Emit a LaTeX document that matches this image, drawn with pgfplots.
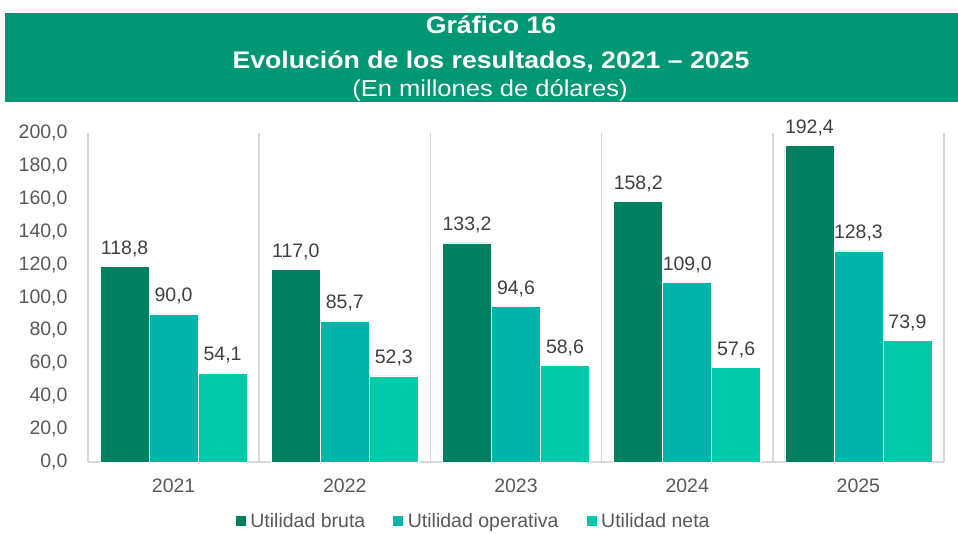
\documentclass[border=0pt]{standalone}
\usepackage{pgfplots}
\pgfplotsset{compat=1.18}
\usepackage{fontspec}
\setmainfont{Liberation Sans}
\newfontfamily\titlefont{Liberation Sans}[FakeStretch=1.11]
\definecolor{banner}{RGB}{0,151,117}
\definecolor{cbruta}{RGB}{0,128,96}
\definecolor{coper}{RGB}{0,180,170}
\definecolor{cneta}{RGB}{0,201,170}
\definecolor{gridgray}{RGB}{217,217,217}
\definecolor{ticktext}{RGB}{89,89,89}
\definecolor{labeltext}{RGB}{64,64,64}
\begin{document}
\begin{tikzpicture}[x=1pt,y=1pt]
\useasboundingbox (0,0) rectangle (958,534);
\fill[banner] (5,432) rectangle (958,521);
\node[anchor=base,text=white,font=\titlefont\fontsize{24}{26}\selectfont\bfseries] at (491,500) {Gráfico 16};
\node[anchor=base,text=white,font=\titlefont\fontsize{24}{26}\selectfont\bfseries] at (491,465) {Evolución de los resultados, 2021 – 2025};
\node[anchor=base,text=white,font=\titlefont\fontsize{23}{26}\selectfont] at (490,437) {(En millones de dólares)};
\begin{axis}[
  at={(173.6pt,72pt)}, anchor=origin,
  width=856pt, height=329pt, scale only axis,
  xmin=-0.5, xmax=4.5, ymin=0, ymax=200,
  clip=false,
  ybar=0pt, bar width=49pt,
  axis x line*=bottom, axis y line*=left,
  axis line style={draw=gridgray, line width=1.5pt},
  xtick={0,1,2,3,4}, xticklabels={2021,2022,2023,2024,2025},
  minor xtick={-0.5,0.5,1.5,2.5,3.5,4.5},
  xminorgrids=true,
  minor grid style={draw=gridgray, line width=1.5pt},
  ytick={0,20,...,200},
  major tick length=0pt, minor tick length=0pt,
  /pgf/number format/assume math mode=true,
  scaled y ticks=false,
  yticklabel style={font=\fontsize{19.5}{22}\selectfont, text=ticktext, xshift=-17pt,
    /pgf/number format/.cd, fixed, fixed zerofill, precision=1, use comma},
  xticklabel style={font=\fontsize{19.5}{22}\selectfont, text=ticktext, yshift=-13pt},
  nodes near coords,
  every node near coord/.append style={font=\fontsize{19.5}{22}\selectfont, text=labeltext, yshift=6pt,
    /pgf/number format/fixed, /pgf/number format/fixed zerofill,
    /pgf/number format/precision=1, /pgf/number format/use comma},
  legend columns=3,
  legend style={at={(0.45,-0.18)}, anchor=center, draw=none, fill=none,
    font=\fontsize{19.5}{22}\selectfont, text=ticktext,
    /tikz/every even column/.append style={column sep=25pt}},
  legend image code/.code={\fill[#1] (0pt,-5.5pt) rectangle (11pt,5.5pt); \path (13pt,0pt);},
]
\addplot[fill=cbruta, draw=white, line width=0.6pt] coordinates {(0,118.8) (1,117.0) (2,133.2) (3,158.2) (4,192.4)};
\addplot[fill=coper, draw=white, line width=0.6pt] coordinates {(0,90.0) (1,85.7) (2,94.6) (3,109.0) (4,128.3)};
\addplot[fill=cneta, draw=white, line width=0.6pt] coordinates {(0,54.1) (1,52.3) (2,58.6) (3,57.6) (4,73.9)};
\legend{Utilidad bruta, Utilidad operativa, Utilidad neta}
\end{axis}
\end{tikzpicture}
\end{document}
